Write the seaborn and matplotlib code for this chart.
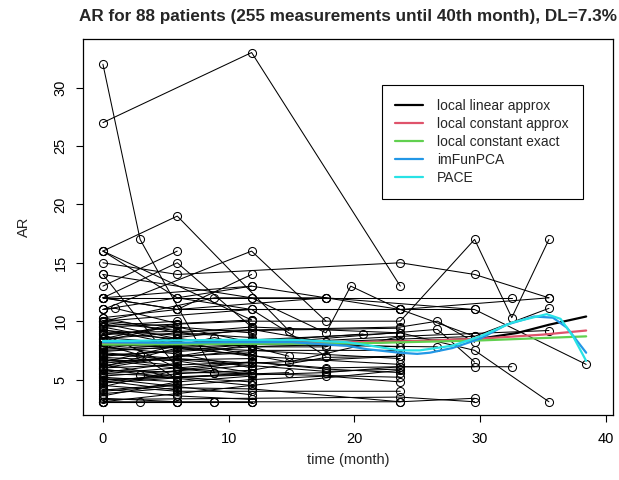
import numpy as np
import pandas as pd
import seaborn as sns
import matplotlib
matplotlib.use("Agg")
import matplotlib.pyplot as plt


# visit days (converted to months below) and AR value per patient
visit_days = [
    [0, 90, 270], [0, 360, 720], [0, 180, 450], [0, 180, 720, 900, 1080],
    [0, 360, 540], [0, 180], [0, 180, 360], [0, 180, 360, 540],
    [0, 360, 540, 600, 720, 900], [0, 360, 720, 900, 990, 1080],
    [0, 180, 540, 900, 1170], [0, 360, 720, 900], [0, 360, 540, 990],
    [0, 180, 720, 1080], [0, 360, 900, 1080], [0, 180, 360, 720, 900, 1080],
    [0, 360, 720, 1080], [0, 720, 900], [0, 180, 360, 720, 900],
    [0, 360, 540, 720, 990], [0, 720, 810, 900], [0, 180, 810, 900],
    [0, 360, 810], [0, 540, 720, 900], [0, 30, 180], [0, 90, 180],
    [0, 90, 360], [0, 90, 270], [0, 270, 360], [0, 270, 540], [0, 270, 450],
    [0, 450, 720], [0, 450], [0, 180, 360, 540, 720], [0, 180, 360, 540, 720],
    [0, 180, 360, 720], [0, 180, 360], [0, 180, 360, 720], [0, 180, 360],
    [0, 180, 360, 540], [0, 180, 360], [0, 180, 360, 720],
    [0, 180, 360, 540, 720], [0, 180, 360, 720], [0, 180, 360], [0, 180],
    [0, 180, 360], [0, 180, 360, 720], [0, 360], [0, 180, 360], [0, 180],
    [0, 360, 720], [0, 180, 360, 540, 720], [0, 180, 360], [0, 180],
    [0, 360, 720], [0, 180, 360], [0, 180, 360, 720], [0, 180], [0, 180, 360],
    [0, 360, 720], [0, 180, 360], [0, 180], [0, 360], [0, 180, 360, 540],
    [0, 180], [0, 360, 540, 720], [0, 180, 360, 720], [0, 630], [0, 180],
    [0, 180, 360], [0, 360], [0, 180], [0, 360, 720], [0, 180, 360],
    [0, 180, 360], [0, 180, 360], [0, 180], [0, 360], [0, 180], [0, 360, 720],
    [0, 180], [0, 180, 360], [0, 180], [0, 360], [0, 180, 360], [0, 180],
    [0, 270],
]
ar_values = [
    [32, 17, 5.6], [27, 33, 13], [16, 19, 9.2], [15, 14, 15, 14, 12],
    [11, 16, 10], [13, 16], [12, 15, 9.5], [16, 12, 11, 7],
    [14, 12, 9, 13, 11, 8.7], [9.5, 10, 10, 17, 10.3, 17],
    [12, 11, 12, 11, 6.3], [10, 11, 11, 11], [12, 12, 12, 12],
    [10.3, 11, 11, 12], [9, 8, 8.7, 11.1], [8.5, 9, 9.5, 9, 7.5, 3.1],
    [7.5, 8, 8.7, 9.2], [3.3, 3.5, 3.1], [3.1, 3.1, 3.1, 3.1, 3.4],
    [6, 6.5, 6, 6.1, 6.1], [9, 9.5, 10, 8.2], [7, 7.5, 9.3, 6.5],
    [6, 8, 7.8], [5, 5.6, 6.1, 6.1], [11, 11.1, 9.8], [8, 7.1, 5],
    [5.5, 5.4, 4.5], [3.1, 3.1, 3.1], [3.1, 3.1, 3.1], [10, 12, 12], [6.5, 8.6, 7],
    [9.5, 6.5, 8.7], [5, 5.6], [4, 4.5, 5, 5.3, 4.8], [5.5, 6, 6.5, 5.9, 5.6],
    [4.5, 4, 4, 4], [6.2, 7, 7.3], [7.3, 6.8, 6.4, 7], [8.8, 9.5, 8.2],
    [9.8, 8.5, 7.8, 7.8], [10.3, 9, 8.6], [8.2, 7.8, 7, 6.3],
    [4.8, 5.5, 5.8, 6.9, 7], [3.8, 4.3, 4.2, 3.1], [5.2, 4.8, 5.3], [6.8, 6.2],
    [7.8, 7.2, 6], [9.2, 8.8, 9.2, 9.4], [6.6, 6.8], [4.2, 3.6, 3.3], [3.6, 4.8],
    [5.8, 5.5, 5.2], [7.1, 7.4, 7.8, 8, 8.2], [8.5, 9.8, 10.1], [9.9, 9.2],
    [7.6, 8.3, 7.8], [6.3, 5.2, 4.8], [3.1, 3.8, 4.5, 5.8], [5.6, 6.4], [4.4, 5.8, 6.5],
    [8, 7.5, 6.8], [6.9, 6.6, 5.6], [9.3, 8], [10, 9], [7.9, 8.6, 9.3, 8.2],
    [3.4, 3.1], [5.3, 6.2, 5.7, 5.9], [8.6, 8.1, 8.4, 9], [7.4, 8.9], [4.1, 4.6],
    [6.1, 7.7, 7.1], [16, 10.1], [14, 6], [12, 13, 11], [11, 12, 13],
    [12, 11, 14], [8.9, 6, 5.5], [5.9, 5.1], [4.7, 5.6], [7.7, 8.3], [6.4, 7.5, 7.5],
    [9.6, 10], [3.1, 3.1, 3.1], [4.9, 4.1], [7.2, 6.2], [5.1, 4.4, 3.7], [8.3, 9.7],
    [6.7, 5.6],
]

# mean curves
ll_month = [0, 5, 10, 15, 20, 25, 30, 33, 35.5, 38.44]
ll_ar = [8.0, 8.05, 8.1, 8.15, 8.2, 8.3, 8.5, 9.0, 9.7, 10.4]
lc_month = [0, 10, 20, 25, 30, 35, 38.44]
lc_ar = [8.1, 8.15, 8.2, 8.3, 8.5, 8.85, 9.2]
lce_month = [0, 10, 20, 30, 38.44]
lce_ar = [8.0, 8.05, 8.1, 8.35, 8.7]
fpca_month = [0, 5, 10, 15, 19.4, 21, 23.6, 25, 26, 27.8, 30, 32.1, 34.3, 35.8, 36.9, 38.44]
fpca_ar = [8.2, 8.15, 8.2, 8.2, 7.9, 7.6, 7.3, 7.2, 7.3, 7.7, 8.5, 9.7, 10.4, 10.3, 9.45, 7.3]
pace_month = [0, 5, 10, 15, 19.4, 21, 23.6, 25.2, 27.8, 30, 32.6, 35.3, 36.4, 37.4, 38.44]
pace_ar = [8.3, 8.35, 8.4, 8.4, 8.2, 7.95, 7.5, 7.5, 7.9, 8.7, 9.9, 10.6, 10.2, 8.7, 6.6]

rows = []
for pid, (days, vals) in enumerate(zip(visit_days, ar_values)):
    for d, v in zip(days, vals):
        rows.append((pid, d / 30.44, v))
df = pd.DataFrame(rows, columns=["pid", "month", "AR"])

sns.set_theme(style="white")
plt.rcParams["font.family"] = ["Liberation Sans", "DejaVu Sans"]

fig = plt.figure(figsize=(6.19, 4.8), dpi=100)
ax = fig.add_axes([0.134, 0.135, 0.856, 0.784])

sns.lineplot(data=df, x="month", y="AR", units="pid", estimator=None, sort=False,
             color="black", lw=0.75, marker="o", markersize=5.8,
             markerfacecolor="none", markeredgecolor="black", markeredgewidth=0.75,
             ax=ax, legend=False)

curves = [
    (ll_month, ll_ar, "black", "local linear approx"),
    (lc_month, lc_ar, "#DF536B", "local constant approx"),
    (lce_month, lce_ar, "#61D04F", "local constant exact"),
    (fpca_month, fpca_ar, "#2297E6", "imFunPCA"),
    (pace_month, pace_ar, "#28E2E5", "PACE"),
]
for m, a, col, lab in curves:
    sns.lineplot(x=m, y=a, color=col, lw=1.6, label=lab, ax=ax)

ax.set_xlim(-1.59, 40.56)
ax.set_ylim(1.95, 34.17)
ax.set_xticks([0, 10, 20, 30, 40])
ax.set_yticks([5, 10, 15, 20, 25, 30])
ax.tick_params(axis="both", direction="out", length=5, width=0.8, labelsize=10.5,
               bottom=True, left=True, color="black", labelcolor="black")
ax.tick_params(axis="x", pad=7)
ax.tick_params(axis="y", pad=6)
for lbl in ax.get_yticklabels():
    lbl.set_rotation(90)
    lbl.set_va("center")
for sp in ax.spines.values():
    sp.set_color("black")
    sp.set_linewidth(0.9)

ax.set_xlabel("time (month)", fontsize=10.5, labelpad=5)
ax.set_ylabel("AR", fontsize=10.5, labelpad=16)
ax.set_title("AR for 88 patients (255 measurements until 40th month), DL=7.3%",
             fontsize=12.3, fontweight="bold", pad=13)

leg = ax.legend(loc="upper right", bbox_to_anchor=(0.943, 0.878), fontsize=10,
                frameon=True, fancybox=False, edgecolor="black", framealpha=1,
                handlelength=2.0, handletextpad=1.0, labelspacing=0.3,
                borderpad=1.0, borderaxespad=0)
leg.get_frame().set_linewidth(0.8)

fig.savefig("out.png", dpi=100)
